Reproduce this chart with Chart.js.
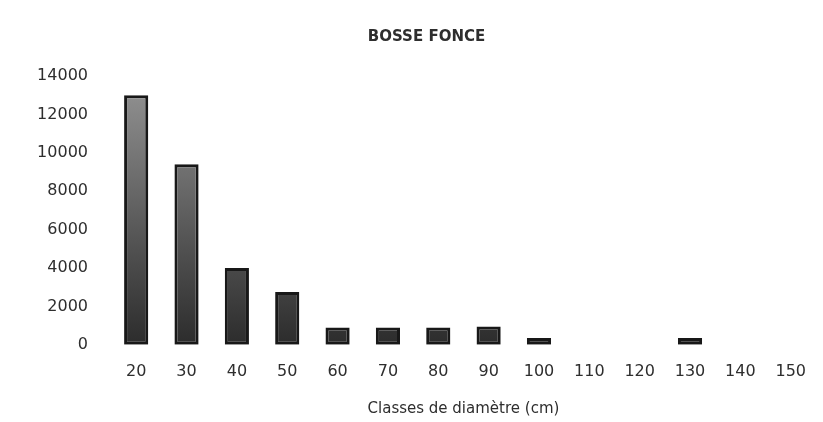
<!DOCTYPE html>
<html>
<head>
<meta charset="utf-8">
<script src="https://cdn.jsdelivr.net/npm/chart.js@4"></script>
<style>
  html, body { margin: 0; padding: 0; background: #fff; }
  #wrap { width: 823px; height: 422px; }
</style>
</head>
<body>
<div id="wrap"><canvas id="chart" width="823" height="422"></canvas></div>
<script>
const classes = ['20', '30', '40', '50', '60', '70', '80', '90', '100', '110', '120', '130', '140', '150'];
const counts = [13000, 9400, 4000, 2750, 900, 900, 900, 950, 350, 0, 0, 350, 0, 0];
const yTicks = [0, 2000, 4000, 6000, 8000, 10000, 12000, 14000];

const inkColor = '#2e2e2e';

// scanned look: dark at the base, lighter towards the top
function barFill(ctx) {
  const area = ctx.chart.chartArea;
  if (!area) return '#555';
  const g = ctx.chart.ctx.createLinearGradient(0, area.bottom, 0, area.top);
  g.addColorStop(0, '#2c2c2c');
  g.addColorStop(0.35, '#505050');
  g.addColorStop(1, '#959595');
  return g;
}

new Chart(document.getElementById('chart'), {
  type: 'bar',
  data: {
    labels: classes,
    datasets: [{
      data: counts,
      backgroundColor: barFill,
      borderColor: '#181818',
      borderWidth: 3,
      borderSkipped: false,
      barPercentage: 0.48,
      categoryPercentage: 1
    }]
  },
  options: {
    responsive: false,
    animation: false,
    layout: { padding: { left: 27, right: -3, top: 0, bottom: 4 } },
    plugins: {
      legend: { display: false },
      tooltip: { enabled: false },
      title: {
        display: true,
        text: 'BOSSE FONCE',
        color: inkColor,
        font: { family: 'DejaVu Sans', size: 15, weight: 'bold' },
        padding: { top: 28, bottom: 30 }
      }
    },
    scales: {
      x: {
        grid: { display: false, drawTicks: false },
        border: { display: false },
        ticks: {
          color: inkColor,
          font: { family: 'DejaVu Sans', size: 16 },
          padding: 17,
          maxRotation: 0
        },
        title: {
          display: true,
          text: 'Classes de diamètre (cm)',
          color: inkColor,
          font: { family: 'DejaVu Sans', size: 15 },
          padding: { top: 2, bottom: 0 }
        }
      },
      y: {
        min: 0,
        max: 14000,
        afterFit: s => { s.width = 84; },
        afterBuildTicks: s => { s.ticks = yTicks.map(v => ({ value: v })); },
        grid: { display: false, drawTicks: false },
        border: { display: false },
        ticks: {
          color: inkColor,
          font: { family: 'DejaVu Sans', size: 16 },
          padding: 23,
          callback: v => String(v)
        }
      }
    }
  }
});
</script>
</body>
</html>
